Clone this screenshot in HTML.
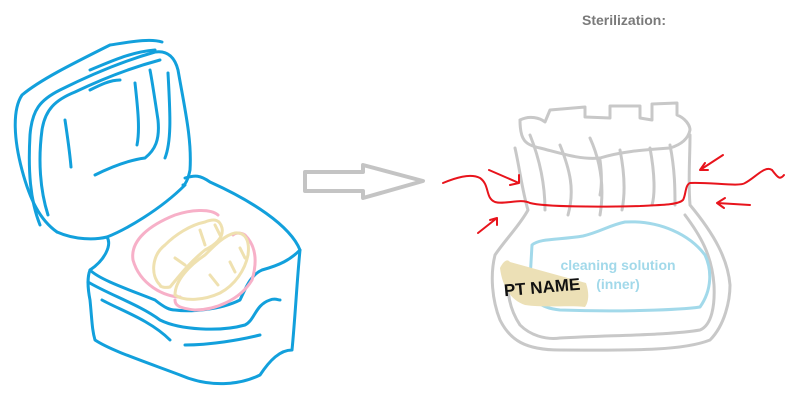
<!DOCTYPE html>
<html><head><meta charset="utf-8"><style>
html,body{margin:0;padding:0;background:#fff;}
svg{display:block;}
text{font-family:"Liberation Sans",sans-serif;font-weight:bold;}
</style></head><body>
<svg width="795" height="407" viewBox="0 0 795 407" xmlns="http://www.w3.org/2000/svg" fill="none" stroke-linecap="round" stroke-linejoin="round">
<g stroke="#12a0dc" stroke-width="3">
<path d="M57,232 C40,220 30,200 22,170 C14,140 12,110 22,95 C40,80 70,65 110,45 C130,42 150,38 162,42"/>
<path d="M40,225 C30,200 28,170 30,135 C32,110 40,100 60,90 C90,75 120,62 155,52 C168,50 175,58 178,70 C185,110 192,140 190,170 C188,180 185,185 183,185"/>
<path d="M48,215 C40,190 38,160 42,130 C45,110 55,100 75,92 C100,80 130,68 160,60"/>
<path d="M57,232 C75,240 95,240 107,237 C125,230 160,210 185,185"/>
<path d="M90,70 C110,62 130,52 155,50"/>
<path d="M65,120 C68,140 70,155 71,167"/>
<path d="M95,175 C115,165 130,160 145,158 C155,150 160,140 158,120 C155,100 152,80 150,70"/>
<path d="M168,73 C170,110 172,140 165,158"/>
<path d="M90,90 C100,85 110,80 120,80"/>
<path d="M135,83 C138,110 140,130 137,145"/>
<path d="M107,237 C112,245 105,260 90,270 C88,275 87,285 90,300 C92,320 92,330 95,340 C110,350 140,360 180,375 C210,388 240,385 260,375 C270,360 280,350 292,350 C295,320 297,280 300,250 C290,225 250,200 210,182 C200,175 195,175 185,178"/>
<path d="M90,270 C100,280 130,290 155,300 C165,308 170,310 175,310 C190,312 220,310 240,300 C245,290 250,275 262,270 C280,265 290,260 300,250"/>
<path d="M88,282 C110,295 140,305 160,320 C180,330 220,332 245,325 C255,320 255,305 270,300 C275,298 278,300 280,300"/>
<path d="M102,300 C120,310 150,320 170,340"/>
<path d="M185,345 C210,345 240,340 260,335"/>
</g>
<g stroke="#f7b0c8" stroke-width="3">
<path d="M180,297 C165,297 140,285 133,260 C130,240 150,225 175,215 C190,210 210,208 218,215"/>
<path d="M175,300 C175,305 178,308 195,310 C215,310 240,300 252,280 C258,260 255,245 245,235 C240,232 235,233 233,235"/>
</g>
<g stroke="#efe1b0" stroke-width="3">
<path d="M160,285 C150,275 152,255 165,245 C175,235 190,225 205,222 C215,218 220,220 222,228 C224,238 215,245 205,250 C190,262 180,275 170,287 C165,288 160,287 160,285"/>
<path d="M175,295 C175,280 190,265 205,255 C215,245 225,235 235,233 C245,232 250,240 248,255 C245,270 235,285 220,293 C205,300 185,302 175,295"/>
<path d="M175,258 L185,265 M200,230 L205,245 M215,225 L220,235 M210,275 L218,285 M230,262 L235,272 M240,248 L245,258"/>
</g>
<path d="M305,172 L363,172 L363,165 L423,181 L363,198 L363,191 L305,191 Z" stroke="#c4c4c4" stroke-width="4"/>
<text x="582" y="25" font-size="14" fill="#7a7a7a">Sterilization:</text>
<g stroke="#c8c8c8" stroke-width="3">
<path d="M520,120 C530,115 540,118 545,122 L550,110 L585,107 L585,117 L610,118 L610,106 L640,106 L640,118 L652,120 L652,104 L677,103 L677,115 C685,118 690,125 690,130 C688,140 680,145 670,148 C640,150 620,152 600,158 C580,160 560,153 540,148 C525,145 520,140 520,120"/>
<path d="M515,148 C520,170 522,190 528,210 C520,225 505,240 495,255 C490,275 492,300 500,320 C510,340 525,350 560,350 C620,350 680,352 710,340 C725,325 730,300 730,285 C728,260 715,235 690,205 C688,180 690,160 690,135"/>
<path d="M510,270 C505,290 510,310 520,325 C530,335 545,340 560,338 C620,335 670,335 700,330 C712,325 715,305 714,285 C712,255 700,235 685,215"/>
<path d="M530,135 C540,160 545,185 545,210 M560,145 C570,170 575,190 568,215 M590,138 C600,160 605,185 600,215 M620,150 C625,175 625,195 622,210 M650,148 C655,175 655,195 652,205 M670,145 C675,170 675,190 675,205 M600,160 C602,175 602,185 600,195"/>
</g>
<path d="M532,245 C540,238 560,240 583,236 C600,232 610,225 625,222 C660,220 690,235 705,255 C712,270 712,290 700,307 C680,310 620,312 560,310 C540,308 530,300 530,280 Z" stroke="#a2d9ea" stroke-width="3"/>
<path d="M500,268 C503,262 507,258 510,262 L586,283 C590,295 588,303 585,307 C570,305 545,308 525,305 C510,300 502,285 500,268 Z" fill="#ece0b6" stroke="none"/>
<text x="618" y="270" font-size="14" fill="#a2d9ea" text-anchor="middle">cleaning solution</text>
<text x="618" y="289" font-size="14" fill="#a2d9ea" text-anchor="middle">(inner)</text>
<text x="504" y="294" font-size="17" fill="#111" transform="rotate(-5 530 290)">PT NAME</text>
<g stroke="#e8141c" stroke-width="2">
<path d="M443,183 C455,178 470,173 480,178 C490,185 485,198 495,202 C505,205 520,198 530,203 C545,207 600,207 640,206 C660,205 678,205 683,200 C686,195 685,185 690,183 C710,182 740,187 745,183 C755,178 765,165 772,170 C778,178 780,180 784,175"/>
<path d="M489,170 L519,183 M519,183 L519,175 M519,183 L510,185"/>
<path d="M478,233 L497,218 M497,218 L497,225 M497,218 L490,220"/>
<path d="M723,155 L700,170 M700,170 L705,163 M700,170 L708,170"/>
<path d="M750,205 L717,203 M717,203 L725,198 M717,203 L724,208"/>
</g>
</svg>
</body></html>
